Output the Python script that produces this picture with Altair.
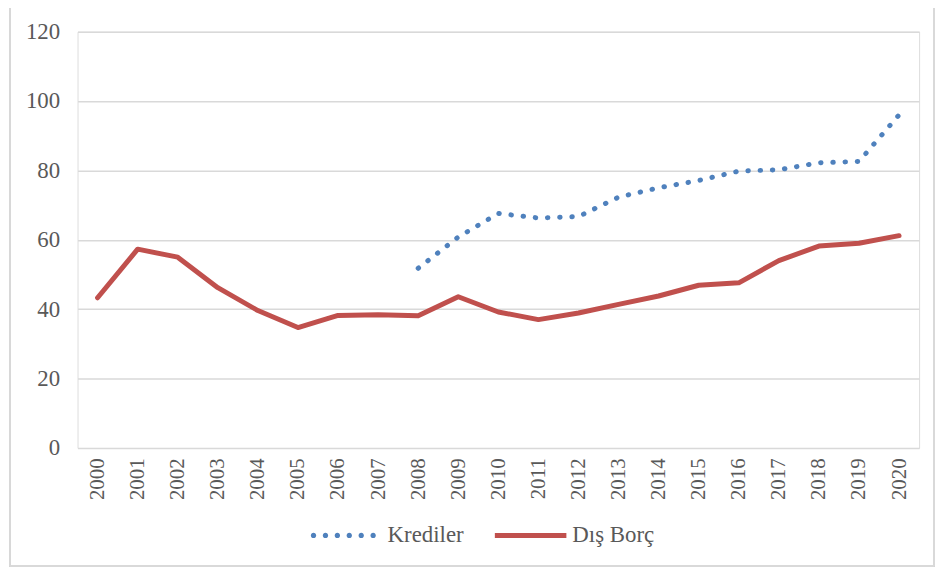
import altair as alt
import pandas as pd

years = ["2000", "2001", "2002", "2003", "2004", "2005", "2006", "2007", "2008", "2009",
         "2010", "2011", "2012", "2013", "2014", "2015", "2016", "2017", "2018", "2019", "2020"]
dis_borc = [43.3, 57.3, 55.0, 46.2, 39.6, 34.7, 38.2, 38.4, 38.1, 43.6,
            39.2, 37.0, 38.9, 41.4, 43.8, 46.9, 47.6, 54.0, 58.2, 59.0, 61.2]
kredi_years = ["2008", "2009", "2010", "2011", "2012", "2013", "2014", "2015", "2016",
               "2017", "2018", "2019", "2020"]
krediler = [51.8, 60.8, 67.6, 66.3, 66.7, 72.3, 75.0, 77.1, 79.8, 80.2, 82.2, 82.6, 96.0]

series_names = ["Krediler", "Dış Borç"]
series_colors = ["#4F81BD", "#C0504D"]

rows = [{"year": y, "value": v, "series": "Krediler"} for y, v in zip(kredi_years, krediler)]
rows += [{"year": y, "value": v, "series": "Dış Borç"} for y, v in zip(years, dis_borc)]
df = pd.DataFrame(rows)

FONT = "Liberation Serif"
GRID = "#D9D9D9"
TEXT = "#595959"

# legend symbol shapes (unit box -1..1): six round dots, and a solid bar
r = 0.075
dot_centers = [-0.903, -0.569, -0.236, 0.097, 0.431, 0.764]
dots_path = "".join(
    f"M{c - r:.3f},0a{r},{r} 0 1,0 {2 * r:.3f},0a{r},{r} 0 1,0 {-2 * r:.3f},0"
    for c in dot_centers)
bar_path = "M-1,-0.07L1,-0.07L1,0.07L-1,0.07Z"

x_enc = alt.X("year:O", sort=years, scale=alt.Scale(domain=years, type="point", padding=0.5),
              axis=alt.Axis(title=None, labelAngle=-90, labelFontSize=21, labelColor=TEXT,
                            labelFont=FONT, ticks=False, domain=False, labelPadding=10,
                            grid=False))
y_enc = alt.Y("value:Q", scale=alt.Scale(domain=[0, 120]),
              axis=alt.Axis(title=None, values=[0, 20, 40, 60, 80, 100, 120], labelFontSize=23,
                            labelColor=TEXT, labelFont=FONT, ticks=False, domain=False,
                            labelPadding=18, grid=True, gridColor=GRID, gridWidth=1.5))

base = alt.Chart(df)

kredi_line = base.transform_filter(alt.datum.series == "Krediler").mark_line(
    strokeWidth=5, strokeCap="round", strokeJoin="round", color=series_colors[0],
    strokeDash=[0.5, 11.8]).encode(x=x_enc, y=y_enc)

borc_line = base.transform_filter(alt.datum.series == "Dış Borç").mark_line(
    strokeWidth=5, strokeCap="round", strokeJoin="round", color=series_colors[1]
).encode(x=x_enc, y=y_enc)

legend = alt.Legend(title=None, orient="none", direction="horizontal", legendX=234,
                    legendY=471, symbolSize=5184, symbolStrokeWidth=0, labelFontSize=23,
                    labelFont=FONT, labelColor=TEXT, columnPadding=31, labelOffset=6,
                    padding=0)

legend_layer = base.transform_filter(alt.datum.value < 0).mark_point(
    filled=True, opacity=1).encode(
    x=x_enc, y=y_enc,
    color=alt.Color("series:N", scale=alt.Scale(domain=series_names, range=series_colors),
                    sort=series_names, legend=legend),
    shape=alt.Shape("series:N", scale=alt.Scale(domain=series_names,
                                                 range=[dots_path, bar_path]),
                    sort=series_names, legend=legend),
)

border_color = "#D9D9D9"
b_top = base.mark_rule(color=border_color, strokeWidth=1).encode(
    x=alt.value(-68), x2=alt.value(862), y=alt.value(-29))
b_bot = base.mark_rule(color=border_color, strokeWidth=1).encode(
    x=alt.value(-68), x2=alt.value(862), y=alt.value(538))
b_left = base.mark_rule(color=border_color, strokeWidth=1).encode(
    x=alt.value(-68), y=alt.value(-29), y2=alt.value(538))
b_right = base.mark_rule(color=border_color, strokeWidth=1).encode(
    x=alt.value(862), y=alt.value(-29), y2=alt.value(538))

chart = alt.layer(kredi_line, borc_line, legend_layer, b_top, b_bot, b_left, b_right).properties(
    width=847, height=419,
    autosize=alt.AutoSizeParams(type="none"),
    padding={"left": 70, "top": 22, "right": 16, "bottom": 120},
).configure_view(stroke=None).configure(font=FONT, background="white")

chart.save("out.html", embed_options={"renderer": "svg", "actions": False})
